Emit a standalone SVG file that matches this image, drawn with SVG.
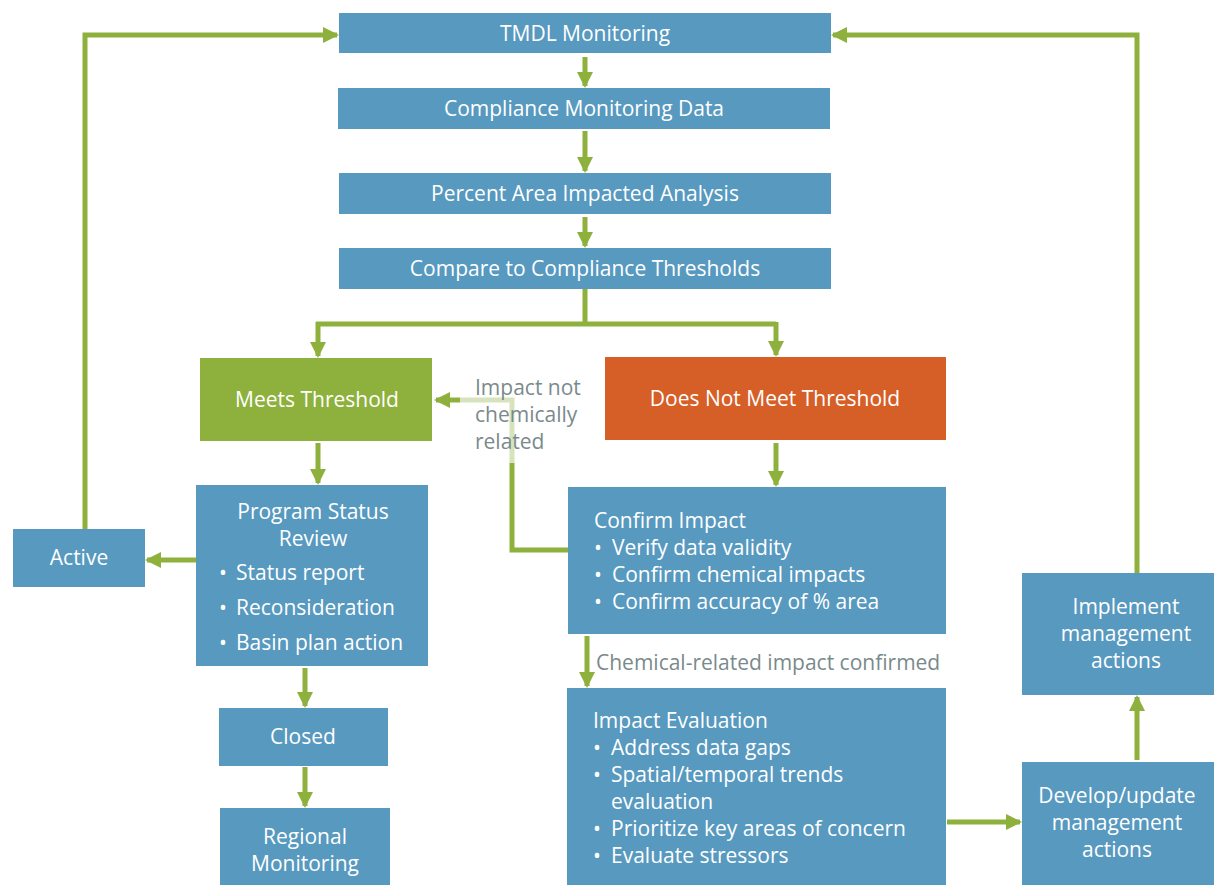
<svg xmlns="http://www.w3.org/2000/svg" width="1214" height="885" viewBox="0 0 1214 885">
<style>
.b{fill:#5799bf}
.g{fill:#8db13c}
.o{fill:#d65f27}
.t{font-family:"Open Sans","Noto Sans",sans-serif;font-size:21px;fill:#ffffff}
.c{text-anchor:middle}
.l{font-family:"Open Sans","Noto Sans",sans-serif;font-size:21px;fill:#7a8a8c}
.e{fill:none;stroke:#8db13c;stroke-width:5}
</style>
<defs>
<marker id="a" markerUnits="userSpaceOnUse" markerWidth="18" markerHeight="18" refX="14" refY="9" orient="auto">
<path d="M0,1 L16,9 L0,17 Z" fill="#8db13c"/>
</marker>
</defs>
<rect width="1214" height="885" fill="#ffffff"/>
<g id="connectors">
<path class="e" d="M585,57 V86" marker-end="url(#a)"/>
<path class="e" d="M585,131 V171" marker-end="url(#a)"/>
<path class="e" d="M585,217 V246" marker-end="url(#a)"/>
<path class="e" d="M585,289 V324 M316,324 H776"/>
<path class="e" d="M318,322 V356" marker-end="url(#a)"/>
<path class="e" d="M776,322 V355" marker-end="url(#a)"/>
<path class="e" d="M318,443 V483" marker-end="url(#a)"/>
<path class="e" d="M776,443 V485" marker-end="url(#a)"/>
<path class="e" d="M196,560 H147" marker-end="url(#a)"/>
<path class="e" d="M85,529 V35 H337" marker-end="url(#a)"/>
<path class="e" d="M305,668 V706" marker-end="url(#a)"/>
<path class="e" d="M305,767 V806" marker-end="url(#a)"/>
<path class="e" d="M568,550 H512 V400 H436" marker-end="url(#a)"/>
<path class="e" d="M587,636 V686" marker-end="url(#a)"/>
<path class="e" d="M947,822 H1020" marker-end="url(#a)"/>
<path class="e" d="M1137,760 V697" marker-end="url(#a)"/>
<path class="e" d="M1137,573 V35 H833" marker-end="url(#a)"/>
</g>
<g id="label-not-chem">
<rect x="460" y="372" width="130" height="91" fill="#ffffff" fill-opacity="0.65"/>
<text class="l" x="475" y="395">Impact not</text>
<text class="l" x="475" y="422">chemically</text>
<text class="l" x="475" y="449">related</text>
</g>
<g id="label-chem">
<text class="l" x="596" y="670">Chemical-related impact confirmed</text>
</g>
<g id="n-tmdl"><rect class="b" x="339" y="13" width="492" height="40"/><text class="t c" x="585" y="41">TMDL Monitoring</text></g>
<g id="n-cmd"><rect class="b" x="338" y="88" width="492" height="41"/><text class="t c" x="584" y="116">Compliance Monitoring Data</text></g>
<g id="n-paia"><rect class="b" x="339" y="173" width="492" height="41"/><text class="t c" x="585" y="201">Percent Area Impacted Analysis</text></g>
<g id="n-cct"><rect class="b" x="339" y="248" width="492" height="41"/><text class="t c" x="585" y="276">Compare to Compliance Thresholds</text></g>
<g id="n-meets"><rect class="g" x="200" y="358" width="232" height="83"/><text class="t c" x="317" y="407">Meets Threshold</text></g>
<g id="n-notmeet"><rect class="o" x="605" y="357" width="341" height="83"/><text class="t c" x="775" y="406">Does Not Meet Threshold</text></g>
<g id="n-psr"><rect class="b" x="196" y="485" width="232" height="181"/>
<text class="t c" x="313" y="519">Program Status</text>
<text class="t c" x="313" y="546">Review</text>
<text class="t" y="580"><tspan x="219">•</tspan><tspan x="236">Status report</tspan></text>
<text class="t" y="615"><tspan x="219">•</tspan><tspan x="236">Reconsideration</tspan></text>
<text class="t" y="650"><tspan x="219">•</tspan><tspan x="236">Basin plan action</tspan></text>
</g>
<g id="n-active"><rect class="b" x="13" y="529" width="132" height="58"/><text class="t c" x="79" y="565">Active</text></g>
<g id="n-closed"><rect class="b" x="219" y="708" width="169" height="58"/><text class="t c" x="303" y="744">Closed</text></g>
<g id="n-regional"><rect class="b" x="220" y="808" width="170" height="77"/>
<text class="t c" x="305" y="844">Regional</text>
<text class="t c" x="305" y="871">Monitoring</text>
</g>
<g id="n-confirm"><rect class="b" x="568" y="487" width="378" height="147"/>
<text class="t" x="594" y="528">Confirm Impact</text>
<text class="t" y="555"><tspan x="594">•</tspan><tspan x="612">Verify data validity</tspan></text>
<text class="t" y="582"><tspan x="594">•</tspan><tspan x="612">Confirm chemical impacts</tspan></text>
<text class="t" y="609"><tspan x="594">•</tspan><tspan x="612">Confirm accuracy of % area</tspan></text>
</g>
<g id="n-eval"><rect class="b" x="567" y="688" width="379" height="197"/>
<text class="t" x="593" y="728">Impact Evaluation</text>
<text class="t" y="755"><tspan x="593">•</tspan><tspan x="611">Address data gaps</tspan></text>
<text class="t" y="782"><tspan x="593">•</tspan><tspan x="611">Spatial/temporal trends</tspan></text>
<text class="t" x="611" y="809">evaluation</text>
<text class="t" y="836"><tspan x="593">•</tspan><tspan x="611">Prioritize key areas of concern</tspan></text>
<text class="t" y="863"><tspan x="593">•</tspan><tspan x="611">Evaluate stressors</tspan></text>
</g>
<g id="n-implement"><rect class="b" x="1022" y="573" width="192" height="122"/>
<text class="t c" x="1126" y="614">Implement</text>
<text class="t c" x="1126" y="641">management</text>
<text class="t c" x="1126" y="668">actions</text>
</g>
<g id="n-develop"><rect class="b" x="1022" y="762" width="192" height="123"/>
<text class="t c" x="1117" y="803">Develop/update</text>
<text class="t c" x="1117" y="830">management</text>
<text class="t c" x="1117" y="857">actions</text>
</g>
</svg>
